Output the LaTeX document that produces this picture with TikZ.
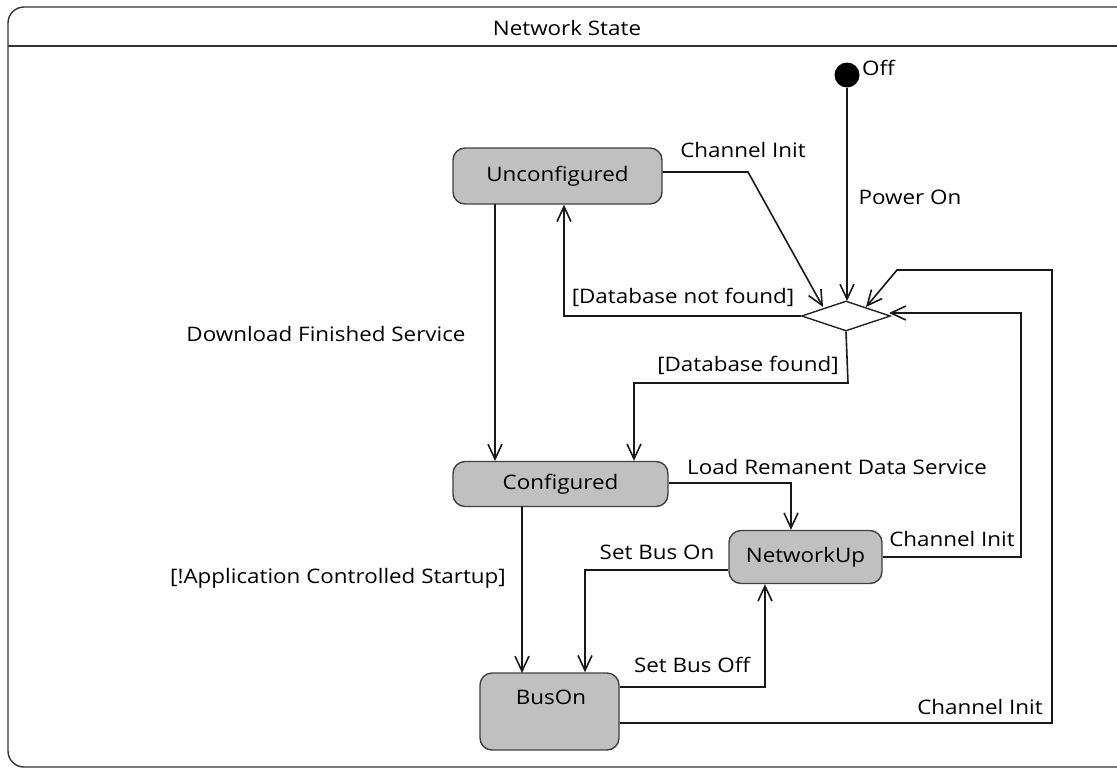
\documentclass[tikz,border=0pt]{standalone}
\usepackage{fontspec}
\setmainfont[FakeStretch=1.12]{Open Sans}
\usetikzlibrary{arrows.meta,shapes.geometric}
\definecolor{stfill}{HTML}{C0C0C0}
\definecolor{stline}{HTML}{404040}
\tikzset{
  x=1pt,y=-1pt,
  state/.style={draw=stline,fill=stfill,rounded corners=12pt,line width=1.4pt,inner sep=0pt,font=\fontsize{20}{22}\selectfont},
  conn/.style={draw=black!90,line width=1.6pt,-{Straight Barb[length=15pt,width=14pt]}},
  lbl/.style={inner sep=0pt,font=\fontsize{20}{22}\selectfont},
}
\begin{document}
\begin{tikzpicture}
\useasboundingbox (0,0) rectangle (1117,769);
% frame
\draw[line width=1.4pt,draw=black!80,rounded corners=16pt] (1140,7) -- (8,7) -- (8,767) -- (1140,767);
\draw[line width=1.4pt,draw=black!80] (8,46) -- (1140,46);
\node[lbl] (title) at (567,28) {Network State};
% initial
\node[circle,fill=black,inner sep=0pt,minimum size=25pt] (init) at (847,75) {};
\node[lbl,anchor=west] (off) at (862,68) {Off};
% states
\node[state,minimum width=209pt,minimum height=56pt] (unc) at (557.5,176) {Unconfigured};
\node[state,minimum width=215pt,minimum height=45pt] (conf) at (560.5,484) {Configured};
\node[state,minimum width=153pt,minimum height=53pt] (nup) at (805.5,557) {NetworkUp};
\node[state,minimum width=139pt,minimum height=77pt] (bus) at (549.5,711.5) {};
\node[lbl] (bustext) at (551,697) {BusOn};
% decision
\node[diamond,draw=black!85,line width=1.4pt,fill=white,minimum width=89pt,minimum height=30pt,inner sep=0pt,aspect=3] (dec) at (846,316) {};
% coordinates
\coordinate (c1) at (748,172);
\coordinate (c3) at (564,316);
\coordinate (c4a) at (848,383);
\coordinate (c4b) at (634,383);
\coordinate (c7) at (791,483);
\coordinate (c8) at (585,570);
\coordinate (c9) at (765,687);
\coordinate (c10a) at (1021,557);
\coordinate (c10b) at (1021,313);
\coordinate (c11a) at (1052,723);
\coordinate (c11b) at (1052,270);
\coordinate (c11c) at (897,270);
% connectors
\draw[conn] (init) -- (847,301);
\draw[conn] (unc.east |- c1) -- (c1) -- (823,307);
\draw[conn] (dec.west) -- (c3) -- (c3 |- unc.south);
\draw[conn] (dec.south) -- (c4a) -- (c4b) -- (c4b |- conf.north);
\draw[conn] (495,204) -- (495,461);
\draw[conn] (522,506) -- (522,673);
\draw[conn] (conf.east |- c7) -- (c7) -- (c7 |- nup.north);
\draw[conn] (nup.west |- c8) -- (c8) -- (c8 |- bus.north);
\draw[conn] (bus.east |- c9) -- (c9) -- (c9 |- nup.south);
\draw[conn] (nup.east |- c10a) -- (c10a) -- (c10b) -- (889,313);
\draw[conn] (bus.east |- c11a) -- (c11a) -- (c11b) -- (c11c) -- (866,307);
% labels
\node[lbl] (l1) at (743,150) {Channel Init};
\node[lbl] (l2) at (910,197) {Power On};
\node[lbl] (l3) at (683,297) {[Database not found]};
\node[lbl] (l4) at (326,334) {Download Finished Service};
\node[lbl] (l5) at (748,365) {[Database found]};
\node[lbl] (l6) at (837,467) {Load Remanent Data Service};
\node[lbl] (l7) at (657,552) {Set Bus On};
\node[lbl] (l8) at (952,539) {Channel Init};
\node[lbl] (l9) at (338,578) {[!Application Controlled Startup]};
\node[lbl] (l10) at (692,665) {Set Bus Off};
\node[lbl] (l11) at (980,707) {Channel Init};
\end{tikzpicture}
\end{document}
